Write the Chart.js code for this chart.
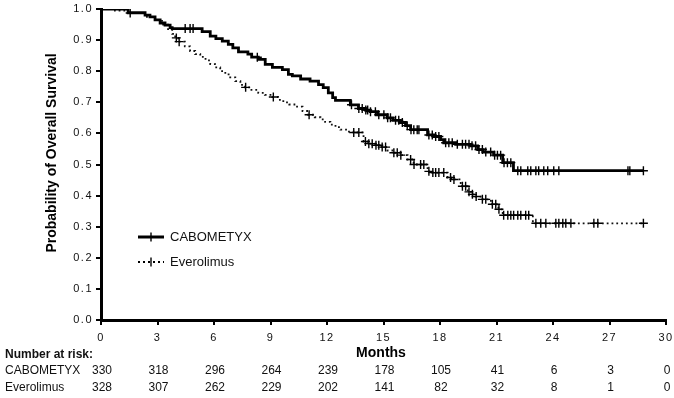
<!DOCTYPE html>
<html>
<head>
<meta charset="utf-8">
<script src="https://cdn.jsdelivr.net/npm/chart.js@4.4.1/dist/chart.umd.min.js"></script>
<style>
html,body{margin:0;padding:0;background:#fff;}
#wrap{width:674px;height:398px;position:relative;}
</style>
</head>
<body>
<div id="wrap"><canvas id="c" width="674" height="398"></canvas></div>
<script>
// ---- Data ----
const monthTicks = [0,3,6,9,12,15,18,21,24,27,30];
const riskCabometyx = [330,318,296,264,239,178,105,41,6,3,0];
const riskEverolimus = [328,307,262,229,202,141,82,32,8,1,0];

const cabTimes = [0,1.44,2.34,2.6,2.87,3.14,3.4,3.67,3.78,5.37,5.8,6.1,6.44,6.76,7.0,7.3,7.8,8.0,8.35,8.72,9.1,9.63,9.95,10.16,10.6,11.1,11.55,11.8,12.07,12.3,12.45,13.24,13.67,14.04,14.3,14.68,15.2,15.5,15.9,16.17,16.44,17.34,17.66,18.03,18.2,18.83,19.63,20.0,20.3,20.85,21.33,21.9,28.8];
const cabSurv  = [1.0,0.988,0.98,0.975,0.965,0.955,0.948,0.94,0.937,0.927,0.913,0.905,0.897,0.886,0.875,0.862,0.855,0.845,0.838,0.822,0.812,0.805,0.79,0.785,0.775,0.768,0.757,0.747,0.73,0.715,0.706,0.692,0.68,0.675,0.67,0.66,0.65,0.642,0.635,0.625,0.612,0.595,0.59,0.58,0.57,0.565,0.56,0.548,0.54,0.53,0.506,0.48,0.48];
const cabCensored = [4.47,4.73,4.89,8.3,13.3,13.69,13.87,14.06,14.16,14.31,14.57,14.75,15.02,15.22,15.37,15.64,15.81,16.0,16.26,16.46,16.61,16.79,16.88,17.41,17.59,17.77,17.94,18.3,18.47,18.65,18.92,19.19,19.36,19.54,19.7,19.89,20.07,20.25,20.43,20.69,20.9,21.05,21.22,21.4,21.58,21.76,22.13,22.29,22.66,22.82,23.09,23.24,23.51,23.72,24.04,24.31,27.98,28.08,28.8];

const eveTimes = [0,0.74,1.44,2.34,2.87,3.24,3.56,3.78,3.94,4.1,4.45,4.73,5.0,5.27,5.55,5.8,6.06,6.33,6.6,6.86,7.13,7.4,7.65,7.93,8.35,8.7,9.1,9.4,9.68,10.0,10.32,10.7,11.0,11.35,11.65,11.9,12.18,12.45,12.71,13.09,13.4,13.94,14.15,14.57,14.84,15.21,15.53,15.9,16.28,16.6,17.34,17.6,18.4,18.6,19.1,19.47,19.68,19.9,20.16,20.7,21.1,21.33,22.93,28.8];
const eveSurv  = [1.0,0.995,0.987,0.975,0.965,0.95,0.935,0.92,0.907,0.895,0.88,0.865,0.855,0.846,0.835,0.823,0.812,0.80,0.79,0.78,0.768,0.756,0.748,0.74,0.73,0.724,0.717,0.708,0.70,0.693,0.686,0.672,0.66,0.652,0.645,0.637,0.628,0.62,0.612,0.606,0.603,0.574,0.567,0.562,0.556,0.545,0.538,0.53,0.516,0.50,0.478,0.474,0.458,0.452,0.43,0.412,0.404,0.397,0.388,0.372,0.356,0.337,0.311,0.311];
const eveCensored = [1.55,4.0,4.15,7.68,9.15,11.05,13.42,13.69,14.04,14.22,14.4,14.6,14.75,14.93,15.11,15.55,15.73,15.92,16.44,16.62,16.97,17.14,17.41,17.62,17.77,17.94,18.2,18.56,18.74,19.19,19.36,19.54,19.72,19.92,20.25,20.43,20.78,20.96,21.13,21.38,21.6,21.76,21.91,22.13,22.29,22.55,22.71,23.09,23.35,23.62,24.15,24.31,24.52,24.68,24.95,26.17,26.38,28.8];

// ---- helpers ----
function stepValue(times, surv, t){
  let v = surv[0];
  for (let i=0;i<times.length;i++){ if (times[i] <= t) v = surv[i]; else break; }
  return v;
}
const toXY = (times, surv) => times.map((t,i)=>({x:t,y:surv[i]}));
const censorXY = (cens, times, surv) => cens.map(t=>({x:t,y:stepValue(times,surv,t)}));

const FONT = "Arial, 'Liberation Sans', Helvetica, sans-serif";
const TXT = '#111';

const extrasPlugin = {
  id:'extras',
  beforeDraw(chart){ chart.ctx.letterSpacing = '1.5px'; },
  beforeDatasetsDraw(chart){ chart.ctx.letterSpacing = '0px'; },
  afterDraw(chart){
    const ctx = chart.ctx;
    const xs = chart.scales.x;
    ctx.letterSpacing = '0px';
    ctx.save();
    ctx.fillStyle = '#000';
    // y-axis title
    ctx.save();
    ctx.translate(52, 153);
    ctx.rotate(-Math.PI/2);
    ctx.font = 'bold 14px ' + FONT;
    ctx.textAlign='center'; ctx.textBaseline='middle';
    ctx.fillText('Probability of Overall Survival', 0, 0);
    ctx.restore();
    // x-axis title
    ctx.font = 'bold 14px ' + FONT;
    ctx.textAlign='center'; ctx.textBaseline='middle';
    ctx.fillText('Months', 381, 353);
    // legend
    const legend = [
      {label:'CABOMETYX', y:237, dash:[], w:3},
      {label:'Everolimus', y:262, dash:[2,3], w:2}
    ];
    legend.forEach(l=>{
      ctx.save();
      ctx.strokeStyle='#000'; ctx.lineWidth=l.w; ctx.setLineDash(l.dash);
      ctx.beginPath(); ctx.moveTo(138,l.y); ctx.lineTo(164,l.y); ctx.stroke();
      ctx.setLineDash([]); ctx.lineWidth=1.4;
      ctx.beginPath(); ctx.moveTo(151,l.y-4.5); ctx.lineTo(151,l.y+4.5); ctx.stroke();
      ctx.restore();
      ctx.font = '13px ' + FONT;
      ctx.textAlign='left'; ctx.textBaseline='middle';
      ctx.fillStyle=TXT;
      ctx.fillText(l.label, 170, l.y);
    });
    // number at risk table
    ctx.fillStyle=TXT;
    ctx.font = 'bold 12px ' + FONT;
    ctx.textAlign='left'; ctx.textBaseline='middle';
    ctx.fillText('Number at risk:', 5, 355);
    ctx.font = '12px ' + FONT;
    ctx.fillText('CABOMETYX', 5, 371);
    ctx.fillText('Everolimus', 5, 388);
    ctx.textAlign='center';
    monthTicks.forEach((m,i)=>{
      const px = xs.getPixelForValue(m) + 1;
      ctx.fillText(String(riskCabometyx[i]), px, 371);
      ctx.fillText(String(riskEverolimus[i]), px, 388);
    });
    ctx.restore();
  }
};

new Chart(document.getElementById('c'), {
  type:'line',
  data:{
    datasets:[
      {label:'CABOMETYX', data:toXY(cabTimes,cabSurv), stepped:true, borderColor:'#000', borderWidth:2.8, pointRadius:0, fill:false, order:2},
      {label:'Everolimus', data:toXY(eveTimes,eveSurv), stepped:true, borderColor:'#111', borderWidth:1.8, borderDash:[1.8,3], pointRadius:0, fill:false, order:2},
      {type:'scatter', label:'CABOMETYX censored', data:censorXY(cabCensored,cabTimes,cabSurv), pointStyle:'cross', pointRadius:4.5, borderColor:'#000', borderWidth:1.4, showLine:false, order:1},
      {type:'scatter', label:'Everolimus censored', data:censorXY(eveCensored,eveTimes,eveSurv), pointStyle:'cross', pointRadius:4.5, borderColor:'#000', borderWidth:1.4, showLine:false, order:1}
    ]
  },
  options:{
    responsive:false, animation:false,
    layout:{padding:{left:0,top:9,right:8,bottom:0}},
    plugins:{legend:{display:false}, tooltip:{enabled:false}},
    elements:{line:{tension:0}},
    scales:{
      x:{type:'linear', min:0, max:30,
         afterFit(a){ a.height = 78; a.paddingRight = 0; a.paddingLeft = 0; },
         afterBuildTicks(a){ a.ticks = monthTicks.map(v=>({value:v})); },
         grid:{drawOnChartArea:false, drawTicks:true, tickLength:5, color:'#000', lineWidth:2},
         border:{display:true, color:'#000', width:3},
         ticks:{font:{size:11, family:FONT}, color:TXT, padding:6, maxRotation:0, autoSkip:false}
      },
      y:{type:'linear', min:0, max:1,
         afterFit(a){ a.width = 101; a.paddingTop = 0; a.paddingBottom = 0; },
         grid:{drawOnChartArea:false, drawTicks:true, tickLength:5, color:'#000', lineWidth:2},
         border:{display:true, color:'#000', width:3},
         ticks:{stepSize:0.1, font:{size:11, family:FONT}, color:TXT, padding:3, callback:v=>v.toFixed(1)}
      }
    }
  },
  plugins:[extrasPlugin]
});
</script>
</body>
</html>
